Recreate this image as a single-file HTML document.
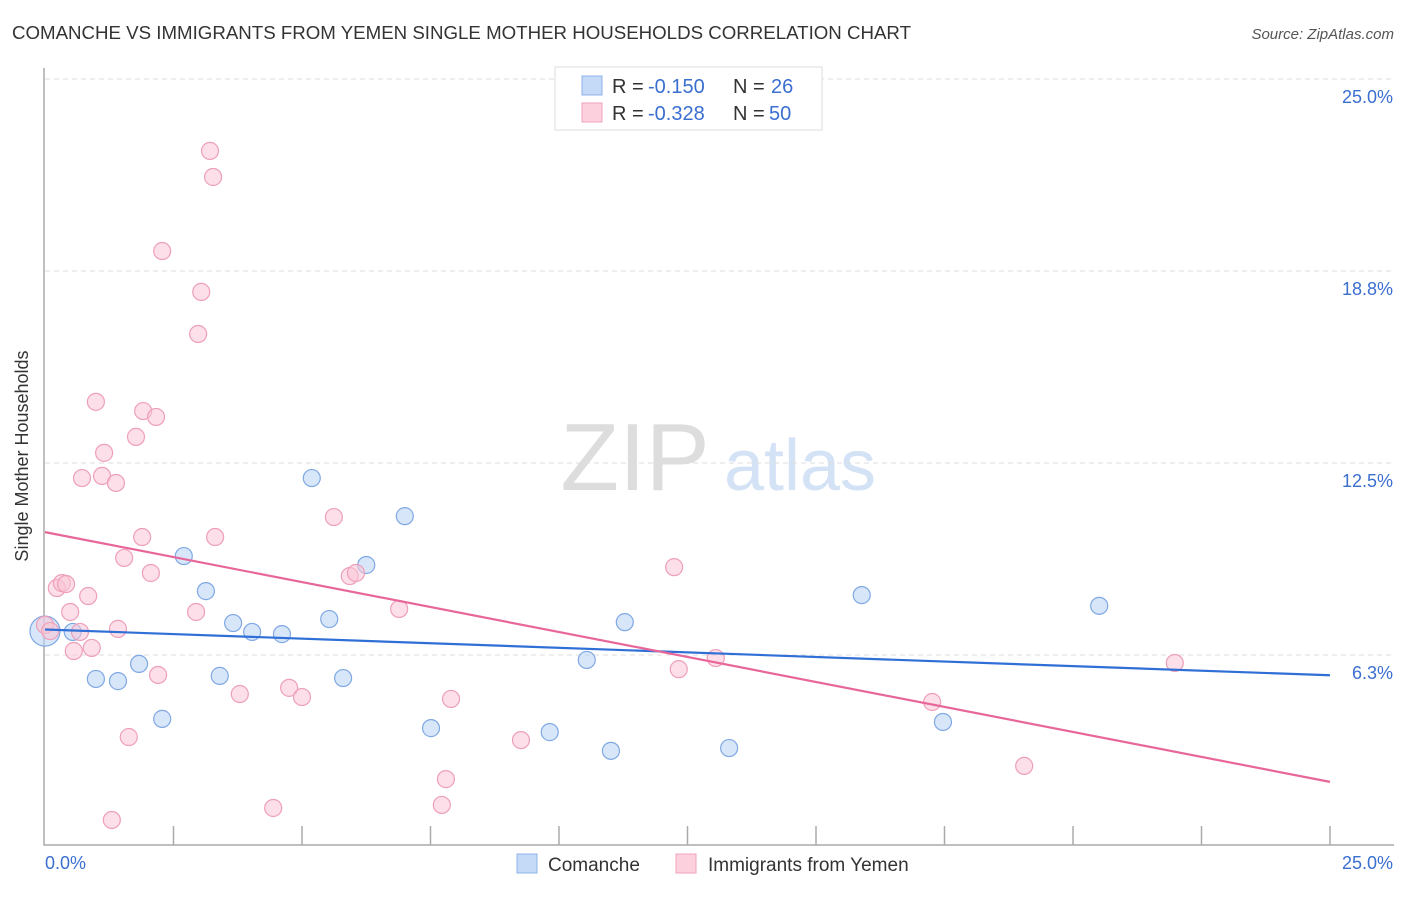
<!DOCTYPE html>
<html><head><meta charset="utf-8"><style>
body{margin:0;background:#fff;font-family:"Liberation Sans",sans-serif}
svg text{font-family:"Liberation Sans",sans-serif}
</style></head><body>
<svg id="c" width="1406" height="892" xmlns="http://www.w3.org/2000/svg">
<text x="12" y="39" font-size="18" fill="#333" textLength="899" lengthAdjust="spacingAndGlyphs">COMANCHE VS IMMIGRANTS FROM YEMEN SINGLE MOTHER HOUSEHOLDS CORRELATION CHART</text>
<text x="1394" y="39" font-size="15" fill="#555" font-style="italic" text-anchor="end">Source: ZipAtlas.com</text>
<text x="28" y="456" font-size="18" fill="#333" text-anchor="middle" transform="rotate(-90 28 456)">Single Mother Households</text>
<g><text x="635" y="490" font-size="96" fill="#ddd" font-family="Liberation Serif" text-anchor="middle">ZIP</text><text x="800" y="490" font-size="72" fill="#d4e2f6" text-anchor="middle">atlas</text></g>
<g id="grid"></g><g id="axes"></g><g id="marks"></g>
<g>
<rect x="555" y="67" width="267" height="63" fill="#fff" stroke="#ddd"/>
<rect x="582" y="76" width="20" height="19" fill="#c5daf7" stroke="#8fb3e8"/>
<rect x="582" y="103" width="20" height="19" fill="#fcd0dd" stroke="#f0a3bd"/>
<text x="612" y="93" font-size="20" fill="#333">R =</text>
<text x="648" y="93" font-size="20" fill="#3a6fd0">-0.150</text>
<text x="733" y="93" font-size="20" fill="#333">N =</text>
<text x="771" y="93" font-size="20" fill="#3a6fd0">26</text>
<text x="612" y="120" font-size="20" fill="#333">R =</text>
<text x="648" y="120" font-size="20" fill="#3a6fd0">-0.328</text>
<text x="733" y="120" font-size="20" fill="#333">N =</text>
<text x="769" y="120" font-size="20" fill="#3a6fd0">50</text>
</g>
<g>
<rect x="517" y="854" width="20" height="19" fill="#c5daf7" stroke="#8fb3e8"/>
<text x="548" y="871" font-size="19" fill="#333">Comanche</text>
<rect x="676" y="854" width="20" height="19" fill="#fcd0dd" stroke="#f0a3bd"/>
<text x="708" y="871" font-size="19" fill="#333">Immigrants from Yemen</text>
</g>
</svg>
<script>
const yTicks=[25,18.75,12.5,6.25];
const yTickLabels=["25.0%","18.8%","12.5%","6.3%"];
const blueX=[0,0.54,0.99,1.42,1.83,2.28,2.70,3.13,3.40,3.66,4.03,4.61,5.19,5.53,5.80,6.25,7.00,7.51,9.82,10.54,11.01,11.28,13.31,15.89,17.47,20.51];
const blueY=[7.03,7.00,5.47,5.40,5.96,4.17,9.47,8.33,5.57,7.29,7.00,6.93,12.01,7.42,5.50,9.18,10.77,3.87,3.74,6.09,3.13,7.32,3.22,8.20,4.07,7.85];
const pinkX=[0,0.10,0.23,0.33,0.41,0.49,0.56,0.68,0.72,0.84,0.91,0.99,1.11,1.15,1.38,1.30,1.42,1.54,1.63,1.77,1.89,1.91,2.06,2.16,2.20,2.28,2.94,2.98,3.04,3.21,3.27,3.31,3.79,4.44,4.75,5.00,5.62,5.93,6.05,6.89,7.72,7.80,7.90,9.26,12.24,12.33,13.05,17.26,19.05,21.98];
const pinkY=[7.23,7.03,8.43,8.59,8.56,7.65,6.38,7.00,12.01,8.17,6.48,14.49,12.08,12.83,11.85,0.88,7.10,9.41,3.58,13.35,10.09,14.19,8.92,14.00,5.60,19.40,7.65,16.70,18.07,22.66,21.81,10.09,4.98,1.27,5.18,4.88,10.74,8.82,8.92,7.75,1.37,2.21,4.82,3.48,9.11,5.79,6.15,4.72,2.64,5.99];
const blueTrend=[7.08,5.59];
const pinkTrend=[10.25,2.12];
const X=v=>45+v*51.4, Y=v=>847-v*30.72;
const NS="http://www.w3.org/2000/svg";
function mk(p,t,a){const e=document.createElementNS(NS,t);for(const k in a)e.setAttribute(k,a[k]);document.getElementById(p).appendChild(e);return e;}
yTicks.forEach((t,i)=>{
 const l=mk('grid','line',{x1:45,x2:1394,y1:Y(t),y2:Y(t),stroke:'#ddd','stroke-dasharray':'5,4'});
 
 
 const tx=mk('grid','text',{x:1393,y:Y(t)+24,'font-size':18,fill:'#3a6fd0','text-anchor':'end'});
 tx.textContent=yTickLabels[i];
 
 
});
let a=mk('axes','path',{d:'M44 68V845H1394',fill:'none',stroke:'#aaa','stroke-width':1.5});


for(let i=1;i<=10;i++){const t=mk('axes','line',{x1:X(i*2.5),x2:X(i*2.5),y1:826,y2:845,stroke:'#aaa','stroke-width':1.5});
 
 }
let x0=mk('axes','text',{x:45,y:869,'font-size':18,fill:'#3a6fd0'});x0.textContent='0.0%';


let x1=mk('axes','text',{x:1393,y:869,'font-size':18,fill:'#3a6fd0','text-anchor':'end'});x1.textContent='25.0%';


blueX.forEach((v,i)=>{const c=mk('marks','circle',{cx:X(v),cy:Y(blueY[i]),r:i==0?15:8.5,fill:'rgba(190,213,245,0.6)',stroke:'#7fa8e4','stroke-width':1.2});
 
 });
pinkX.forEach((v,i)=>{const c=mk('marks','circle',{cx:X(v),cy:Y(pinkY[i]),r:8.5,fill:'rgba(250,196,213,0.55)',stroke:'#ee9fba','stroke-width':1.2});
 
 });
let bl=mk('marks','line',{x1:X(0),y1:Y(blueTrend[0]),x2:X(25),y2:Y(blueTrend[1]),stroke:'#2f6fd6','stroke-width':2.2});


let pl=mk('marks','line',{x1:X(0),y1:Y(pinkTrend[0]),x2:X(25),y2:Y(pinkTrend[1]),stroke:'#e8679a','stroke-width':2.2});


</script>
</body></html>
